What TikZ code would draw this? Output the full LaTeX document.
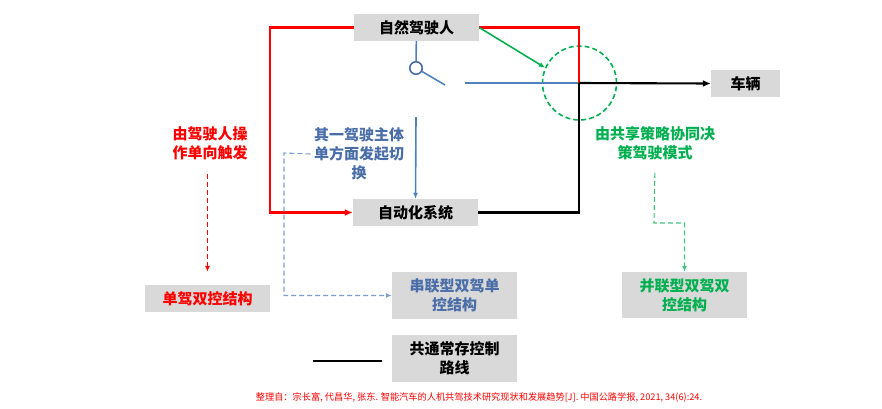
\documentclass[tikz,border=0pt]{standalone}
\usepackage{fontspec}
\setmainfont{Noto Sans CJK SC}
\usepackage{tikz}
\usetikzlibrary{calc}
\usetikzlibrary{arrows,arrows.meta,positioning}
\definecolor{myred}{RGB}{255,0,0}
\definecolor{mygreen}{RGB}{0,176,80}
\definecolor{myblue}{RGB}{79,129,189}
\definecolor{txtblue}{RGB}{74,110,168}
\definecolor{boxgray}{RGB}{217,217,217}

\begin{document}
\begin{tikzpicture}[x=1pt,y=-1pt,
    graybox/.style={fill=boxgray,align=center,inner sep=0pt,minimum width=125pt,
      font=\fontsize{15}{19}\selectfont\bfseries},
    lbl/.style={align=center,font=\fontsize{15}{19}\selectfont\bfseries},
    thickline/.style={line width=2.1pt},
    dashline/.style={line width=1.1pt,dash pattern=on 5pt off 3pt},
    bigtip/.style={-{Latex[length=8pt,width=7pt]}},
    smalltip/.style={-{Latex[length=6pt,width=5pt]}}]
        \useasboundingbox (0,0) rectangle (882,408);
        % boxes
        \node[graybox,minimum height=27pt] (driver) at (416.5,27.5) {自然驾驶人};
        \node[graybox,minimum height=27pt] (auto) at (415.5,212.5) {自动化系统};
        \node[graybox,minimum width=69pt,minimum height=27pt] (car) at (745.5,83.5) {车辆};
        \node[graybox,minimum height=27pt,text=myred] (single) at (207.5,298.5) {单驾双控结构};
        \node[graybox,minimum height=47pt,text=txtblue] (serial) at (454.5,295.5) {串联型双驾单\\控结构};
        \node[graybox,minimum height=46pt,text=mygreen] (parallel) at (684.5,295) {并联型双驾双\\控结构};
        \node[graybox,minimum height=47pt] (legend) at (454.5,358.5) {共通常存控制\\路线};
        % texts
        \node[lbl,text=myred] (redtxt) at (210,143.5) {由驾驶人操\\作单向触发};
        \node[lbl,text=txtblue] (switchtxt) at (359,154) {其一驾驶主体\\单方面发起切\\换};
        \node[lbl,text=mygreen] (greentxt) at (655,143.5) {由共享策略协同决\\策驾驶模式};
        \node[text=myred,font=\fontsize{9.2}{10}\selectfont] (source) at (479,397)
          {整理自：宗长富, 代昌华, 张东. 智能汽车的人机共驾技术研究现状和发展趋势[J]. 中国公路学报, 2021, 34(6):24.};
        % switch
        \node[circle,draw=txtblue,line width=1.6pt,minimum size=12.5pt,inner sep=0pt] (pivot) at (416,68) {};
        \node[circle,draw=mygreen,dashline,line width=1.6pt,minimum size=74pt,inner sep=0pt] (share) at (579.5,83) {};
        \coordinate (lever) at (445,85);
        \coordinate (contact) at (465,83);
        \coordinate (cross) at (579,83);
        \coordinate (tl) at (270,27.5);
        \coordinate (bstart) at (416,117);
        \coordinate (bd) at (284,153);
        \coordinate (g1) at (654,223);
        \coordinate (lg) at (313,361);
        % lines
        \draw[myblue,line width=1.6pt] (driver) -- (pivot);
        \draw[myblue,line width=1.6pt] (pivot.-30) -- (lever);
        \draw[myblue,line width=1.6pt] (contact) -- (cross);
        \draw[myred,thickline,bigtip] (driver.west) -- (tl) |- (auto.west);
        \draw[myred,thickline] (driver.east) -| (cross);
        \draw[mygreen,line width=1.6pt,smalltip] (driver.east) -- (share.156);
        \draw[black,thickline,bigtip] (cross) -- (car.west);
        \draw[black,thickline] (cross) |- (auto.east);
        \draw[myblue,line width=1.6pt,smalltip] (bstart) -- (auto.north);
        \draw[myblue!75,dashline,smalltip] (switchtxt.west) -- (bd) |- (serial.west);
        \draw[myred,dashline,smalltip,shorten <=10pt,shorten >=13pt] (redtxt.south -| single.north) -- (single.north);
        \draw[mygreen!75,dashline,smalltip,shorten <=9pt] (greentxt.south) -- (g1) -| (parallel.north);
        \draw[black,line width=2.4pt] (lg) -- ++(69,0);
      \end{tikzpicture}
\end{document}
